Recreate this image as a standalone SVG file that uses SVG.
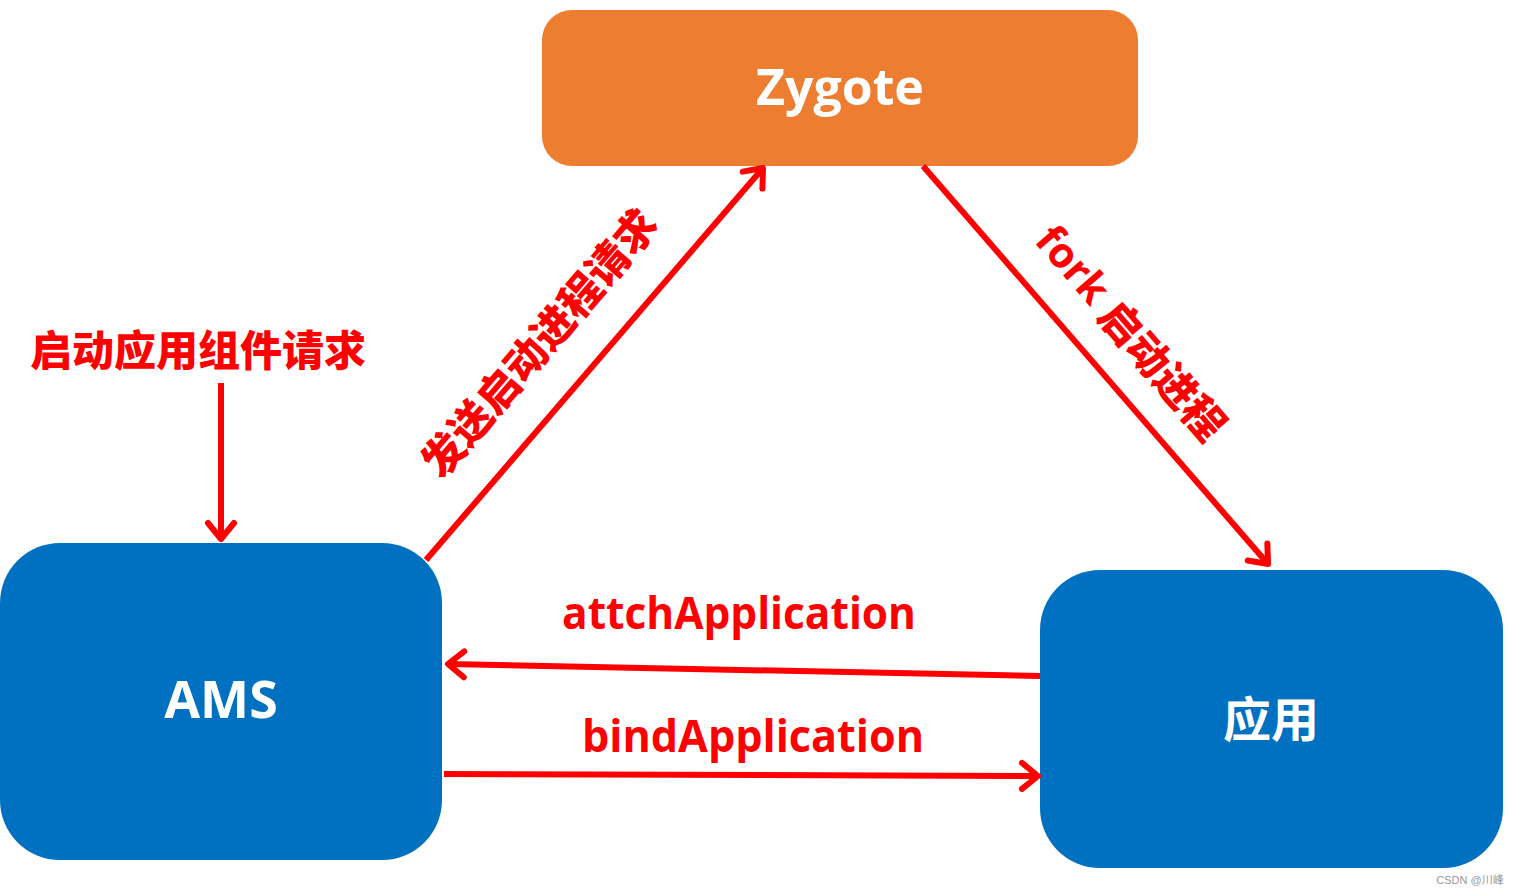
<svg xmlns="http://www.w3.org/2000/svg" width="1519" height="895" viewBox="0 0 1519 895">
<style>
.lbl{font-family:"Open Sans","Noto Sans CJK SC",sans-serif;font-weight:bold;fill:#FF0000}
.cjk{font-family:"Noto Sans CJK SC",sans-serif;font-weight:900;fill:#FF0000}
.node-text{font-family:"Open Sans","Noto Sans CJK SC",sans-serif;font-weight:bold;fill:#FFFFFF;text-anchor:middle}
.conn{stroke:#FF0000;stroke-width:6;fill:none;marker-end:url(#arr)}
</style>
<defs>
<marker id="arr" markerUnits="userSpaceOnUse" markerWidth="40" markerHeight="40" viewBox="-20 -20 40 40" refX="0" refY="0" orient="auto" overflow="visible">
<path d="M -16 -13 L 0 0 L -16 13" fill="none" stroke="#FF0000" stroke-width="6" stroke-linecap="round" stroke-linejoin="round"/>
</marker>
</defs>
<rect width="1519" height="895" fill="#FFFFFF"/>
<g id="zygote">
<rect x="542" y="10" width="596" height="156" rx="30" fill="#ED7D31"/>
<text class="node-text" x="840" y="105" font-size="50">Zygote</text>
</g>
<g id="ams">
<rect x="0" y="543" width="442" height="317" rx="60" fill="#0070C0"/>
<text class="node-text" x="221" y="718" font-size="52">AMS</text>
</g>
<g id="app">
<rect x="1040" y="570" width="463" height="298" rx="60" fill="#0070C0"/>
<text class="node-text" x="1271" y="737" font-size="48">应用</text>
</g>
<g id="connectors">
<line class="conn" x1="221" y1="383" x2="221" y2="539"/>
<line class="conn" x1="426" y1="560" x2="763" y2="168"/>
<line class="conn" x1="923" y1="166" x2="1268" y2="564"/>
<line class="conn" x1="1040" y1="676" x2="448" y2="664"/>
<line class="conn" x1="444" y1="774" x2="1038" y2="776"/>
</g>
<g id="labels">
<text class="cjk" x="198" y="366" font-size="42" text-anchor="middle">启动应用组件请求</text>
<text class="cjk" font-size="42" text-anchor="middle" dominant-baseline="central" transform="translate(537,341) rotate(-49.3)">发送启动进程请求</text>
<text class="lbl" font-size="42" text-anchor="middle" dominant-baseline="central" transform="translate(1133,331) rotate(49.1)">fork <tspan class="cjk">启动进程</tspan></text>
<text class="lbl" x="739" y="629" font-size="44" text-anchor="middle" textLength="354" lengthAdjust="spacingAndGlyphs">attchApplication</text>
<text class="lbl" x="753" y="752" font-size="44" text-anchor="middle" textLength="342" lengthAdjust="spacingAndGlyphs">bindApplication</text>
<text x="1470" y="884" font-family="Liberation Sans,Noto Sans CJK SC,sans-serif" font-size="11" fill="#999999" text-anchor="middle">CSDN @川峰</text>
</g>
</svg>
